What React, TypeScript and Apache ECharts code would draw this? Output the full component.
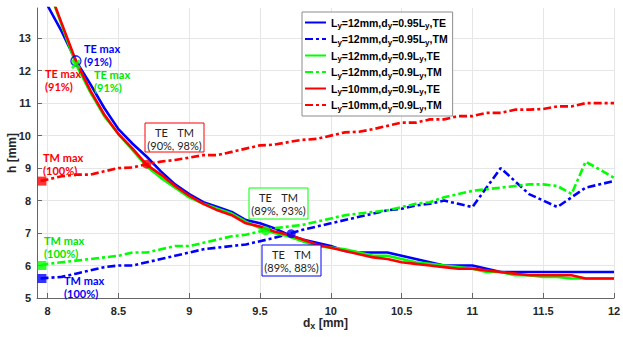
import React, { useEffect, useRef } from "react";
import * as echarts from "echarts";

const dx = [7.95, 8.0, 8.1, 8.2, 8.3, 8.4, 8.5, 8.6, 8.7, 8.8, 8.9, 9.0, 9.1, 9.2, 9.3, 9.4, 9.5, 9.6, 9.7, 9.8, 9.9, 10.0, 10.1, 10.2, 10.3, 10.4, 10.5, 10.6, 10.7, 10.8, 10.9, 11.0, 11.1, 11.2, 11.3, 11.4, 11.5, 11.6, 11.7, 11.8, 11.9, 12.0];

const blueTE = [14.5, 14.0, 13.2, 12.3, 11.6, 10.85, 10.2, 9.75, 9.35, 8.9, 8.5, 8.2, 7.95, 7.8, 7.65, 7.4, 7.3, 7.15, 6.95, 6.8, 6.7, 6.6, 6.45, 6.4, 6.4, 6.4, 6.3, 6.2, 6.1, 6.0, 6.0, 6.0, 5.9, 5.8, 5.8, 5.8, 5.8, 5.8, 5.8, 5.8, 5.8, 5.8];
const blueTM = [5.6, 5.62, 5.65, 5.75, 5.85, 5.95, 6.0, 6.0, 6.1, 6.2, 6.3, 6.4, 6.5, 6.55, 6.6, 6.65, 6.75, 6.85, 6.97, 7.1, 7.2, 7.3, 7.4, 7.5, 7.6, 7.7, 7.75, 7.85, 7.9, 8.0, 7.9, 7.8, 8.4, 9.0, 8.6, 8.2, 8.0, 7.8, 8.1, 8.4, 8.5, 8.6];
const greenTE = [15.2, 14.6, 13.4, 12.2, 11.35, 10.6, 10.05, 9.55, 9.05, 8.7, 8.4, 8.1, 7.9, 7.75, 7.6, 7.35, 7.15, 7.0, 6.9, 6.75, 6.6, 6.55, 6.5, 6.4, 6.3, 6.3, 6.2, 6.1, 6.05, 6.0, 5.95, 5.9, 5.8, 5.8, 5.7, 5.7, 5.65, 5.65, 5.6, 5.6, 5.6, 5.6];
const greenTM = [6.0, 6.05, 6.1, 6.15, 6.2, 6.25, 6.3, 6.4, 6.4, 6.5, 6.6, 6.6, 6.7, 6.8, 6.9, 6.95, 7.05, 7.15, 7.2, 7.25, 7.35, 7.45, 7.55, 7.6, 7.65, 7.7, 7.8, 7.9, 7.95, 8.1, 8.2, 8.3, 8.35, 8.4, 8.45, 8.5, 8.5, 8.45, 8.2, 9.2, 8.95, 8.7];
const redTE = [15.2, 14.6, 13.45, 12.3, 11.4, 10.65, 10.05, 9.6, 9.1, 8.8, 8.45, 8.15, 7.9, 7.7, 7.55, 7.3, 7.2, 7.05, 6.95, 6.8, 6.65, 6.55, 6.45, 6.35, 6.25, 6.2, 6.1, 6.05, 6.0, 5.95, 5.9, 5.9, 5.85, 5.8, 5.75, 5.7, 5.7, 5.7, 5.7, 5.6, 5.6, 5.6];
const redTM = [8.6, 8.65, 8.75, 8.8, 8.8, 8.9, 9.0, 9.02, 9.12, 9.2, 9.25, 9.32, 9.4, 9.4, 9.5, 9.6, 9.7, 9.72, 9.8, 9.87, 9.9, 10.0, 10.1, 10.12, 10.2, 10.3, 10.4, 10.4, 10.5, 10.5, 10.6, 10.6, 10.7, 10.7, 10.8, 10.8, 10.82, 10.9, 10.9, 11.0, 11.0, 11.0];

const seriesNames = [
  "L_y=12mm,d_y=0.95L_y,TE",
  "L_y=12mm,d_y=0.95L_y,TM",
  "L_y=12mm,d_y=0.9L_y,TE",
  "L_y=12mm,d_y=0.9L_y,TM",
  "L_y=10mm,d_y=0.9L_y,TE",
  "L_y=10mm,d_y=0.9L_y,TM",
];

const xTicks = [8, 8.5, 9, 9.5, 10, 10.5, 11, 11.5, 12];
const yTicks = [5, 6, 7, 8, 9, 10, 11, 12, 13];

// marker points [dx, h]
const startBlue = [7.96, 5.6];
const startGreen = [7.96, 6.0];
const startRed = [7.96, 8.6];
const crossRed = [8.7, 9.12];
const crossGreen = [9.54, 7.07];
const crossBlue = [9.72, 6.98];
const teMaxBlue = [8.2, 12.3];
const teMaxGreen = [8.2, 12.2];

const BLUE = "#0000ff";
const GREEN = "#00ff00";
const RED = "#ff0000";
const GREEN_TXT = "#00e600";
const DASH = [8, 3, 3, 3];

const zip = (ys: number[]) => dx.map((x, i) => [x, ys[i]]);

const App: React.FC = () => {
  const ref = useRef<HTMLDivElement>(null);
  useEffect(() => {
    if (!ref.current) return;
    const chart = echarts.init(ref.current, undefined, { renderer: "svg" });
    const lineS = (name: string, ys: number[], color: string, dashed: boolean) => ({
      name,
      type: "line",
      data: zip(ys),
      symbol: "none",
      clip: true,
      lineStyle: { color, width: 2.6, type: dashed ? DASH : "solid" },
      itemStyle: { color },
      z: 3,
    });
    const mark = (pt: number[], color: string, symbol: string, size: number, extra: any = {}) => ({
      type: "scatter",
      data: [pt],
      symbol,
      symbolSize: size,
      itemStyle: { color, ...extra },
      z: 5,
      silent: true,
    });
    const annoFont = "Lato, 'Open Sans', sans-serif";
    const lbl = (x: number, y: number, t: string, color: string) => ({
      type: "text",
      left: x,
      top: y,
      z: 100,
      style: { text: t, fill: color, font: `bold 11px ${annoFont}`, lineHeight: 13 },
    });
    const box = (x: number, y: number, w: number, h: number, color: string, pct: string) => [
      { type: "rect", shape: { x, y, width: w, height: h }, style: { fill: "#fff", stroke: color, lineWidth: 1 }, z: 100 },
      { type: "text", x: x + w / 2 - 13, y: y + 4, z: 101, style: { text: "TE", fill: "#222", font: `11px ${annoFont}`, align: "center" } },
      { type: "text", x: x + w / 2 + 11, y: y + 4, z: 101, style: { text: "TM", fill: "#222", font: `11px ${annoFont}`, align: "center" } },
      { type: "text", x: x + w / 2, y: y + 17, z: 101, style: { text: pct, fill: "#222", font: `11px ${annoFont}`, align: "center" } },
    ];
    const richLegend = {
      n: { fontSize: 10.5, fontWeight: "bold", fontFamily: "'Liberation Sans', Arial", color: "#000" },
      s: { fontSize: 8, fontWeight: "bold", fontFamily: "'Liberation Sans', Arial", color: "#000", padding: [6, 0, 0, 0] },
    };
    const axisFont = { fontSize: 11, fontWeight: "bold", fontFamily: "'Liberation Sans', Arial", color: "#262626" };
    chart.setOption({
      animation: false,
      backgroundColor: "#fff",
      grid: { left: 37, right: 9, top: 8, bottom: 39, containLabel: false, outerBoundsMode: "none" },
      legend: {
        data: seriesNames,
        orient: "vertical",
        left: 302,
        top: 12,
        padding: [5, 5, 4, 2],
        itemWidth: 21,
        itemHeight: 10,
        itemGap: 4,
        backgroundColor: "#fff",
        borderColor: "#8c8c8c",
        borderWidth: 1,
        borderRadius: 0,
        itemStyle: { color: "rgba(0,0,0,0)", borderWidth: 0, opacity: 0 },
        formatter: (name: string) => name.split("_y").map((p) => `{n|${p}}`).join("{s|y}"),
        textStyle: { rich: richLegend },
      },
      xAxis: {
        type: "value",
        min: 7.925,
        max: 12,
        name: "{n|d}{s|x}{n| [mm]}",
        nameLocation: "middle",
        nameGap: 17,
        nameMoveOverlap: false,
        nameTextStyle: { rich: { n: { fontSize: 12, fontWeight: "bold", fontFamily: "'Liberation Sans', Arial", color: "#262626" }, s: { fontSize: 9, fontWeight: "bold", fontFamily: "'Liberation Sans', Arial", color: "#262626", padding: [6, 0, 0, 0] } } },
        axisLine: { show: true, lineStyle: { color: "#666", width: 1 } },
        axisTick: { show: true, inside: true, length: 5, customValues: xTicks, lineStyle: { color: "#666" } },
        axisLabel: { customValues: xTicks, margin: 7, ...axisFont },
        splitLine: { show: true, lineStyle: { color: "#e6e6e6", width: 1 } },
      },
      yAxis: {
        type: "value",
        min: 5,
        max: 13.93,
        name: "h [mm]",
        nameLocation: "middle",
        nameGap: 19,
        nameMoveOverlap: false,
        nameRotate: 90,
        nameTextStyle: { fontSize: 12, fontWeight: "bold", fontFamily: "'Liberation Sans', Arial", color: "#262626" },
        axisLine: { show: true, lineStyle: { color: "#666", width: 1 } },
        axisTick: { show: true, inside: true, length: 5, customValues: yTicks, lineStyle: { color: "#666" } },
        axisLabel: { customValues: yTicks, margin: 6, ...axisFont },
        splitLine: { show: true, lineStyle: { color: "#e6e6e6", width: 1 } },
      },
      series: [
        lineS(seriesNames[0], blueTE, BLUE, false),
        lineS(seriesNames[1], blueTM, BLUE, true),
        lineS(seriesNames[2], greenTE, GREEN, false),
        lineS(seriesNames[3], greenTM, GREEN, true),
        lineS(seriesNames[4], redTE, RED, false),
        lineS(seriesNames[5], redTM, RED, true),
        mark(startBlue, BLUE, "rect", 9),
        mark(startGreen, GREEN, "rect", 9),
        mark(startRed, RED, "rect", 9),
        mark(crossRed, RED, "circle", 9),
        mark(crossGreen, GREEN, "circle", 9),
        mark(crossBlue, BLUE, "circle", 9),
        mark(teMaxBlue, "rgba(255,255,255,0)", "circle", 10, { borderColor: BLUE, borderWidth: 1.5 }),
        mark(teMaxGreen, GREEN, "path://M0,2 L2,0 L5,3 L8,0 L10,2 L7,5 L10,8 L8,10 L5,7 L2,10 L0,8 L3,5 Z", 10),
      ],
      graphic: [
        lbl(84, 42, "TE max\n(91%)", BLUE),
        lbl(45, 67, "TE max\n(91%)", RED),
        lbl(94, 68, "TE max\n(91%)", GREEN_TXT),
        lbl(43, 151, "TM max\n(100%)", RED),
        lbl(44, 234, "TM max\n(100%)", GREEN_TXT),
        lbl(64, 274, "TM max\n(100%)", BLUE),
        ...box(145, 123, 59, 29, RED, "(90%, 98%)"),
        ...box(249, 188, 59, 31, GREEN, "(89%, 93%)"),
        ...box(262, 245, 59, 31, BLUE, "(89%, 88%)"),
      ],
    });
    return () => chart.dispose();
  }, []);
  return <div ref={ref} style={{ position: "fixed", left: 0, top: 0, width: 623, height: 337 }} />;
};

export default App;
